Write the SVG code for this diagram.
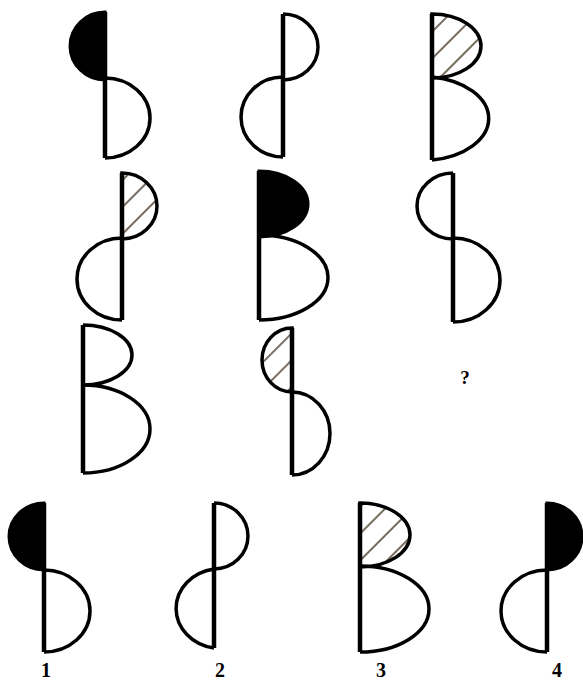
<svg xmlns="http://www.w3.org/2000/svg" width="583" height="682" viewBox="0 0 583 682">
<defs>
<pattern id="hatch" width="19" height="19" patternUnits="userSpaceOnUse" patternTransform="rotate(45)">
<line x1="5" y1="0" x2="5" y2="19" stroke="#4a3a2c" stroke-width="1.5"/>
</pattern>
<style>
.arc{fill:none;stroke:#000;stroke-width:3.5;stroke-linejoin:round}
.blk{fill:#000;stroke:#000;stroke-width:3}
.hat{fill:url(#hatch);stroke:#000;stroke-width:3.5}
.v{stroke:#000;stroke-width:4.5;fill:none}
.lbl{font-family:"Liberation Serif",serif;font-weight:bold;font-size:20px;fill:#000;text-anchor:middle}
</style>
</defs>
<rect width="583" height="682" fill="#fff"/>

<g id="fig1">
<path class="blk" d="M105 12 A35 34 0 0 0 105 80 Z"/>
<path class="arc" d="M105 78 A45 40 0 0 1 105 158"/>
<line class="v" x1="105" y1="12" x2="105" y2="158"/>
</g>

<g id="fig2">
<path class="arc" d="M283 14 A35 33 0 0 1 283 80"/>
<path class="arc" d="M283 77 A42 40 0 0 0 283 157"/>
<line class="v" x1="283" y1="14" x2="283" y2="157"/>
</g>

<g id="fig3">
<path class="hat" d="M432 14 A49 32 0 0 1 432 78 Z"/>
<path class="arc" d="M432 77 A67 42 0 0 1 432 160"/>
<line class="v" x1="432" y1="14" x2="432" y2="160"/>
</g>

<g id="fig4">
<path class="hat" d="M122 173 A35 33 0 0 1 122 239 Z"/>
<path class="arc" d="M122 238 A45 41 0 0 0 122 320"/>
<line class="v" x1="122" y1="173" x2="122" y2="320"/>
</g>

<g id="fig5">
<path class="blk" d="M259 171 A49 33 0 0 1 259 237 Z"/>
<path class="arc" d="M259 235 A69 42.5 0 0 1 259 320"/>
<line class="v" x1="259" y1="171" x2="259" y2="320"/>
</g>

<g id="fig6">
<path class="arc" d="M453 173 A36 33 0 0 0 453 239"/>
<path class="arc" d="M453 238 A47 42 0 0 1 453 322"/>
<line class="v" x1="453" y1="173" x2="453" y2="322"/>
</g>

<g id="fig7">
<path class="arc" d="M83 325 A49 30 0 0 1 83 385"/>
<path class="arc" d="M83 385 A67 44 0 0 1 83 473"/>
<line class="v" x1="83" y1="325" x2="83" y2="473"/>
</g>

<g id="fig8">
<path class="hat" d="M292 328 A30 32 0 0 0 292 392 Z"/>
<path class="arc" d="M292 392 A38 41.5 0 0 1 292 475"/>
<line class="v" x1="292" y1="328" x2="292" y2="475"/>
</g>

<g id="question">
<text class="lbl" x="465" y="384" style="font-size:19px">?</text>
</g>

<g id="ans1">
<path class="blk" d="M44 503 A35 33.5 0 0 0 44 570 Z"/>
<path class="arc" d="M44 570 A46 41 0 0 1 44 652"/>
<line class="v" x1="44" y1="503" x2="44" y2="652"/>
<text class="lbl" x="46" y="677">1</text>
</g>

<g id="ans2">
<path class="arc" d="M214 503 A34 33 0 0 1 214 569"/>
<path class="arc" d="M214 569 A45 40 0 0 0 214 648"/>
<line class="v" x1="214" y1="503" x2="214" y2="648"/>
<text class="lbl" x="220" y="677">2</text>
</g>

<g id="ans3">
<path class="hat" d="M360 503 A50 32 0 0 1 360 567 Z"/>
<path class="arc" d="M360 566 A69 43 0 0 1 360 652"/>
<line class="v" x1="360" y1="503" x2="360" y2="652"/>
<text class="lbl" x="381" y="677">3</text>
</g>

<g id="ans4">
<path class="blk" d="M547 503 A35 33.5 0 0 1 547 570 Z"/>
<path class="arc" d="M547 570 A46 41 0 0 0 547 652"/>
<line class="v" x1="547" y1="503" x2="547" y2="652"/>
<text class="lbl" x="557" y="677">4</text>
</g>
</svg>
